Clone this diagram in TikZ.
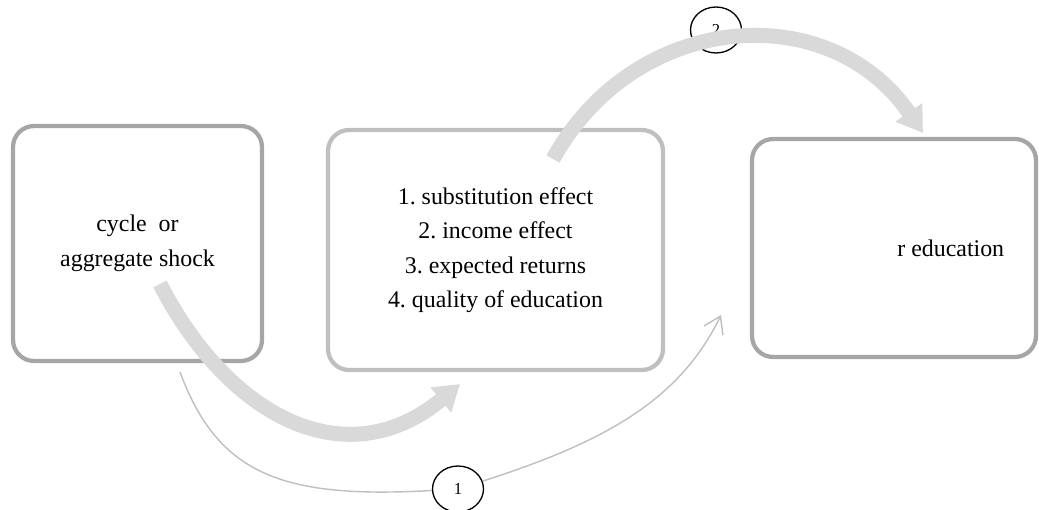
\documentclass[tikz,border=0pt]{standalone}
\usepackage{fontspec}
\setmainfont{Liberation Serif}
\usetikzlibrary{arrows.meta,shapes.geometric}

\definecolor{rimdark}{HTML}{A6A6A6}
\definecolor{rimlight}{HTML}{BFBFBF}
\definecolor{bandfill}{HTML}{D9D9D9}
\frenchspacing

\begin{document}
\begin{tikzpicture}[
  x=0.02cm,y=-0.02cm,
  font=\fontsize{13.6}{19.6}\selectfont,
  box/.style={draw=rimdark,line width=0.085cm,rounded corners=0.42cm,
              align=center,inner sep=0pt},
  band/.style={bandfill,line width=0.3cm,
               -{Triangle[length=0.5cm,width=0.62cm]}},
  link/.style={rimlight,line width=0.8pt,
               -{Straight Barb[length=3.2mm,width=4.2mm]}},
  num/.style={ellipse,draw,line width=0.75pt,fill=white,inner sep=0pt,
              minimum width=1.02cm,minimum height=0.92cm,
              font=\fontsize{9.5}{11}\selectfont},
]
\useasboundingbox (0,0) rectangle (1039,510);
% ---------- the three boxes ----------
\node[box,minimum width=4.98cm,minimum height=4.7cm] (shock) at (137.5,243.5)
   {cycle\ \ or\\aggregate shock};
\node[box,draw=rimlight,minimum width=6.7cm,minimum height=4.8cm] (channels) at (495.5,250)
   {1. substitution effect\\2. income effect\\3. expected returns\\4. quality of education};
\node[box,minimum width=5.68cm,minimum height=4.36cm] (demand) at (894,248) {};
\node[anchor=west,inner sep=0pt] (demandtxt) at (897,248) {r education};
% ---------- numbered markers ----------
\node[num] (two) at (716,30) {2};
\node[num] (one) at (458,489) {1};
% ---------- end points of the arrows ----------
\coordinate (aS) at (160,284);
\coordinate (aE) at (460,384);
\coordinate (bS) at (553,159);
\coordinate (bE) at (923,133);
\coordinate (lS) at (180,372);
\coordinate (lE) at (721,315);
% ---------- broad arrows ----------
\draw[band] (aS) .. controls (229,418) and (347,478) .. (aE);
\draw[band] (bS) .. controls (634,12) and (828,-5) .. (bE);
% ---------- thin direct link, through marker 1 ----------
\draw[link,-] (lS) .. controls (218,475) and (283,499) .. (one);
\draw[link] (one) .. controls (605,442) and (680,400) .. (lE);
\end{tikzpicture}
\end{document}
